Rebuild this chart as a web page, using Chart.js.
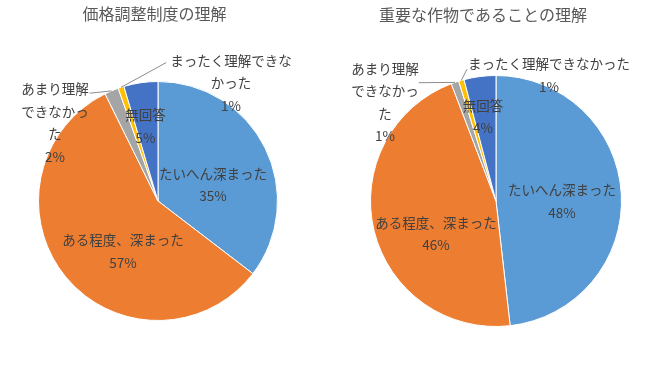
<!DOCTYPE html>
<html><head><meta charset="utf-8">
<script src="https://cdn.jsdelivr.net/npm/chart.js@4/dist/chart.umd.min.js"></script>
<style>
html,body{margin:0;padding:0;background:#fff;width:650px;height:366px;overflow:hidden}
.box{position:absolute;top:0;width:325px;height:366px}
</style></head><body>
<div class="box" style="left:0"><canvas id="c1" width="325" height="366"></canvas></div>
<div class="box" style="left:325px"><canvas id="c2" width="325" height="366"></canvas></div>
<script>
const categories = ["たいへん深まった", "ある程度、深まった", "あまり理解できなかった", "まったく理解できなかった", "無回答"];
const priceValues = [35.4, 57.3, 1.9, 0.8, 4.6];
const cropValues = [48.2, 46.0, 1.0, 0.7, 4.1];
const chartTitles = ["価格調整制度の理解", "重要な作物であることの理解"];
const sliceColors = ['#5B9BD5', '#ED7D31', '#A5A5A5', '#FFC000', '#4472C4'];

const FONT = '"Noto Sans CJK JP", "Noto Sans", sans-serif';

const pieLabels = {
  id: 'pieLabels',
  afterDatasetsDraw(chart, args, opts) {
    const ctx = chart.ctx;
    const meta = chart.getDatasetMeta(0);
    const data = chart.data.datasets[0].data;
    const total = data.reduce((a, b) => a + b, 0);
    ctx.save();
    ctx.font = opts.fontSize + 'px ' + FONT;
    ctx.textAlign = 'center';
    ctx.textBaseline = 'middle';
    meta.data.forEach((arc, i) => {
      const p = arc.getProps(['x', 'y', 'outerRadius', 'startAngle', 'endAngle'], true);
      const spec = opts.items[i];
      const lines = spec.lines.concat([Math.round(data[i] / total * 100) + '%']);
      const cx = p.x + spec.pos[0] * p.outerRadius;
      const cy = p.y + spec.pos[1] * p.outerRadius;
      const top = cy - (lines.length - 1) * opts.lineHeight / 2;
      if (spec.leader) {
        const mid = (p.startAngle + p.endAngle) / 2;
        const ax = p.x + Math.cos(mid) * p.outerRadius;
        const ay = p.y + Math.sin(mid) * p.outerRadius;
        const w = ctx.measureText(spec.lines[0]).width;
        const lx = spec.leader.side === 'right' ? cx + w / 2 + spec.leader.gap : cx - w / 2 - spec.leader.gap;
        const ly = top + spec.leader.dy;
        ctx.strokeStyle = '#8c8c8c';
        ctx.lineWidth = 1;
        ctx.beginPath();
        ctx.moveTo(ax, ay);
        ctx.lineTo(lx, ly);
        ctx.stroke();
      }
      ctx.fillStyle = '#404040';
      lines.forEach((t, k) => ctx.fillText(t, cx, top + k * opts.lineHeight));
    });
    ctx.restore();
  }
};

const fixedTitle = {
  id: 'fixedTitle',
  afterDraw(chart, args, opts) {
    const ctx = chart.ctx;
    ctx.save();
    ctx.font = '16px ' + FONT;
    ctx.fillStyle = '#595959';
    ctx.textAlign = 'center';
    ctx.textBaseline = 'middle';
    ctx.fillText(opts.text, opts.x, opts.y);
    ctx.restore();
  }
};

function makePie(id, values, title, titlePos, padding, items) {
  return new Chart(document.getElementById(id), {
    type: 'pie',
    data: {
      labels: categories,
      datasets: [{
        data: values,
        backgroundColor: sliceColors,
        borderColor: '#ffffff',
        borderWidth: 1
      }]
    },
    options: {
      responsive: false,
      animation: false,
      devicePixelRatio: 1,
      layout: { padding: padding },
      plugins: {
        legend: { display: false },
        tooltip: { enabled: false },
        title: { display: false },
        fixedTitle: { text: title, x: titlePos[0], y: titlePos[1] },
        pieLabels: { fontSize: 13.5, lineHeight: 22.5, items: items }
      }
    },
    plugins: [pieLabels, fixedTitle]
  });
}

makePie('c1', priceValues, chartTitles[0], [154.5, 14], { left: 38, right: 47, top: 81, bottom: 45 }, [
  { lines: [categories[0]], pos: [0.460, -0.134] },
  { lines: [categories[1]], pos: [-0.293, 0.423] },
  { lines: ['あまり理解', 'できなかっ', 'た'], pos: [-0.862, -0.653], leader: { side: 'right', gap: 1, dy: 4 } },
  { lines: ['まったく理解できな', 'かった'], pos: [0.611, -0.987], leader: { side: 'left', gap: 4, dy: 2 } },
  { lines: [categories[4]], pos: [-0.105, -0.623] }
]);

makePie('c2', cropValues, chartTitles[1], [158, 15], { left: 45, right: 28, top: 75, bottom: 39 }, [
  { lines: [categories[0]], pos: [0.526, 0.004] },
  { lines: [categories[1]], pos: [-0.478, 0.263] },
  { lines: ['あまり理解', 'できなかっ', 'た'], pos: [-0.884, -0.785], leader: { side: 'right', gap: 0, dy: 14 } },
  { lines: ['まったく理解できなかった'], pos: [0.422, -1.0], leader: { side: 'left', gap: 1, dy: 5 } },
  { lines: [categories[4]], pos: [-0.104, -0.669] }
]);
</script>
</body></html>
